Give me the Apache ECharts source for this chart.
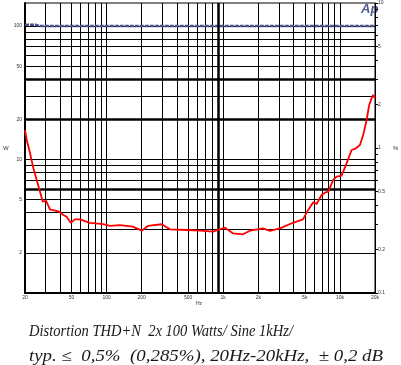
<!DOCTYPE html>
<html><head><meta charset="utf-8">
<script src="https://cdn.jsdelivr.net/npm/echarts@6/dist/echarts.min.js"></script>
<style>html,body{margin:0;padding:0;background:#fff}#c{width:401px;height:365px}</style>
</head><body><div id="c"></div>
<script>
// THD+N (%) vs frequency (Hz), right axis
const freqHz = [20, 20.7, 22.1, 23.6, 25.2, 26.9, 28.4, 30.3, 32.7, 39.3, 42.6, 45.5, 49.3, 53.6, 59.2, 72.1, 93.2, 107, 130, 168, 200, 226, 297, 350, 486, 632, 817, 1035, 1211, 1476, 1695, 2190, 2515, 3063, 3959, 4823, 5354, 5906, 6317, 6974, 7447, 7954, 8768, 9376, 10347, 11419, 12604, 13724, 14850, 15846, 16943, 17836, 18701, 19302, 20000];
const thdPercent = [1.33, 1.135, 0.919, 0.724, 0.602, 0.50, 0.426, 0.433, 0.378, 0.364, 0.345, 0.336, 0.305, 0.322, 0.322, 0.305, 0.299, 0.290, 0.294, 0.287, 0.269, 0.290, 0.298, 0.275, 0.272, 0.269, 0.265, 0.282, 0.258, 0.254, 0.269, 0.279, 0.268, 0.279, 0.305, 0.322, 0.374, 0.422, 0.411, 0.474, 0.492, 0.500, 0.602, 0.634, 0.644, 0.784, 0.969, 0.995, 1.049, 1.229, 1.56, 1.98, 2.20, 2.32, 2.20];
// Output power (W), left axis
const powerFreqHz = [20, 25, 26.5, 20000];
const powerW = [102, 102, 100, 100];
// axes
const xGridHz = [30,40,50,60,70,80,90,100,200,300,400,500,600,700,800,900,1000,2000,3000,4000,5000,6000,7000,8000,9000,10000];
const xLabelHz = [20,50,100,200,500,1000,2000,5000,10000,20000];
const xLabelText = ['20','50','100','200','500','1k','2k','5k','10k','20k'];
const wGrid = [2,3,4,5,6,7,8,9,10,20,30,40,50,60,70,80,90,100];
const wLabels = [2,5,10,20,50,100];
const pctTicks = [0.1,0.2,0.3,0.4,0.5,0.6,0.7,0.8,0.9,1,2,3,4,5,6,7,8,9,10];
const pctLabels = [0.1,0.2,0.5,1,2,5,10];
const thickXHz = [900];
const thickW = [6,20,40];
const captionLines = ['Distortion THD+N  2x 100 Watts/ Sine 1kHz/', 'typ. \u2264  0,5%  (0,285%), 20Hz-20kHz,  \u00b1 0,2 dB'];

// caption layout (pixels)
const capFont = 'italic 16px "Liberation Serif"';
const capLeft = 29;
const capTop = [324, 349];
const capWidth = [264, 354];

const chart = echarts.init(document.getElementById('c'), null, {renderer: 'canvas'});
const lblStyle = {fontSize: 5, color: '#333', fontFamily: 'Liberation Sans'};
function pick(v, vals, texts) {
  const i = vals.findIndex(h => Math.abs(h - v) / h < 1e-6);
  return i >= 0 ? texts[i] : '';
}
const mctx = document.createElement('canvas').getContext('2d');
mctx.font = capFont;
const graphics = [
  {type: 'text', left: 196, top: 301, style: {text: 'Hz', fontSize: 5, fill: '#333', fontFamily: 'Liberation Sans'}},
  {type: 'text', left: 3, top: 145, style: {text: 'W', fontSize: 6, fill: '#333', fontFamily: 'Liberation Sans'}},
  {type: 'text', left: 393, top: 145, style: {text: '%', fontSize: 6, fill: '#333', fontFamily: 'Liberation Sans'}},
  {type: 'text', left: 361, top: 3, style: {text: 'Ap', fontSize: 13, fontWeight: 'bold', fontStyle: 'italic', fill: '#4f5a92', fontFamily: 'Liberation Sans'}}
];
captionLines.forEach((t, i) => {
  const w = mctx.measureText(t).width || capWidth[i];
  graphics.push({type: 'text', x: capLeft, y: capTop[i], scaleX: capWidth[i] / w,
    style: {text: t, font: capFont, fill: '#1a1a1a', verticalAlign: 'top', align: 'left'}});
});

chart.setOption({
  animation: false,
  backgroundColor: '#fff',
  grid: {left: 25, right: 26, top: 3, bottom: 72, show: true, borderColor: '#000', borderWidth: 1},
  xAxis: {
    type: 'log', logBase: 10, min: 20, max: 20000,
    axisLine: {show: true, lineStyle: {color: '#000', width: 2}},
    axisTick: {show: false, customValues: xGridHz},
    splitLine: {show: true, lineStyle: {color: '#000', width: 1}},
    axisLabel: Object.assign({customValues: xLabelHz, margin: 2, formatter: v => pick(v, xLabelHz, xLabelText)}, lblStyle)
  },
  yAxis: [{
    type: 'log', logBase: 10, min: 1, max: 148.5, position: 'left',
    axisLine: {show: true, lineStyle: {color: '#000', width: 2}},
    axisTick: {show: false, customValues: wGrid},
    splitLine: {show: true, lineStyle: {color: '#000', width: 1}},
    axisLabel: Object.assign({customValues: wLabels, margin: 3, formatter: v => pick(v, wLabels, wLabels.map(String))}, lblStyle)
  }, {
    type: 'log', logBase: 10, min: 0.1, max: 10, position: 'right',
    axisLine: {show: true, lineStyle: {color: '#000', width: 1}},
    axisTick: {show: true, customValues: pctTicks, length: 3, lineStyle: {color: '#000'}},
    splitLine: {show: false},
    axisLabel: Object.assign({customValues: pctLabels, margin: 3, formatter: v => pick(v, pctLabels, pctLabels.map(String))}, lblStyle)
  }],
  series: [{
    type: 'line', yAxisIndex: 0, data: [], z: 1, silent: true,
    markLine: {
      silent: true, symbol: 'none', label: {show: false}, animation: false,
      lineStyle: {color: '#000', width: 2.5, type: 'solid'},
      data: thickW.map(v => ({yAxis: v})).concat(thickXHz.map(v => ({xAxis: v})))
    }
  }, {
    type: 'line', yAxisIndex: 0, z: 3, showSymbol: false, silent: true,
    data: powerFreqHz.map((f, i) => [f, powerW[i]]),
    lineStyle: {color: '#48538c', width: 2.4, type: [4, 1]}
  }, {
    type: 'line', yAxisIndex: 1, z: 5, showSymbol: false, silent: true,
    data: freqHz.map((f, i) => [f, thdPercent[i]]),
    lineStyle: {color: '#ff0000', width: 1.8}
  }],
  graphic: graphics
});
</script>
</body></html>
